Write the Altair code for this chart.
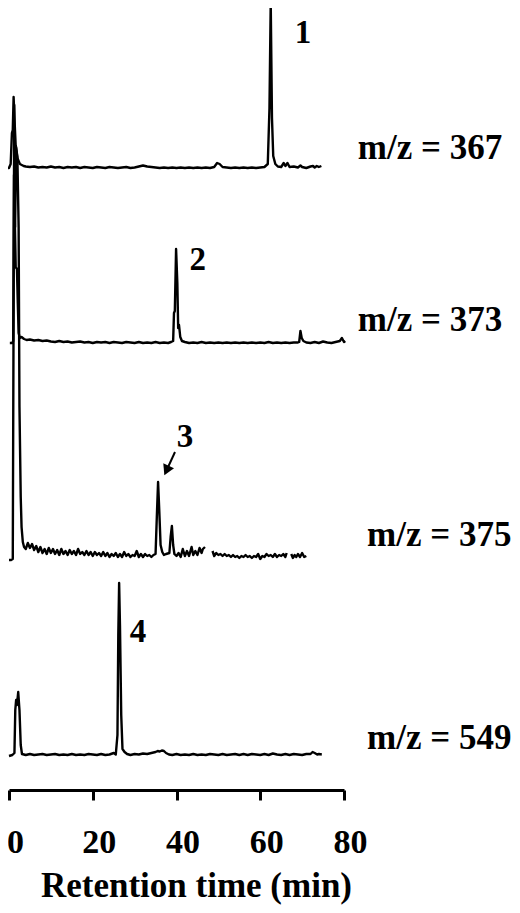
import altair as alt
import pandas as pd

# ---- data: (retention time [min], relative intensity) ----
trace_367 = [(-0.8,0),(0.0,0),(0.4,4),(0.7,35),(0.9,38),(1.1,71),(1.3,50),(1.6,22),(2.0,10),(2.6,4),(3.5,2),
 (4,1.5),(5,1),(6,1.5),(7,0.5),(8,1),(9,0.5),(10,1.5),(11,0.5),(12,1),(13,0),(14,1),(15,0.5),(16,1),(17,0),
 (18,1),(19,0.5),(20,0),(21,1),(22,0.5),(23,0),(24,1),(25,0.5),(26,0),(27,0.5),(28,1),(29,0),(30,0.5),(31,1.5),
 (32,2.5),(33,1.5),(34,1),(35,0.5),(36,0),(37,0.5),(38,0),(39,0.5),(40,0),(41,0.5),(42,0),(43,0.5),(44,0),
 (45,0.5),(46,0),(47,0.5),(48,0),(49,1),(49.7,5),(50.3,4),(51,1),(52,0.5),(53,0),(54,0.5),(55,0),(56,0.5),
 (57,0),(58,0.5),(59,0),(60,0.5),(61,1),(61.8,4),(62.2,60),(62.5,166),(62.8,50),(63.1,12),(63.6,4),(64.2,1.5),
 (65,1),(65.6,5),(66,2),(66.5,5),(67,1),(68,1.5),(69,0.5),(69.6,2.5),(70,1),(71,0),(72,1.5),(72.6,2),(73,0.5),
 (73.5,2),(74,1),(74.6,2)]

trace_373 = [(0.2,0),(0.8,0),(1.0,2),(1.2,168),(1.4,120),(1.6,76),(1.9,74),(2.1,40),(2.3,10),(2.6,5),(3.0,6),
 (3.6,4),(4.2,3),(5,3.5),(6,2.5),(7,3),(8,2),(9,2.5),(10,1.5),(11,1),(12,2),(13,1),(14,1.5),(15,0.5),(16,1),
 (17,1.5),(18,0.5),(19,1),(20,0),(21,1),(22,0.5),(23,1),(24,0),(25,1),(26,0.5),(27,0),(28,1),(29,0.5),(30,0),
 (31,1),(32,0),(33,0.5),(34,0),(35,1),(36,0),(37,0.5),(38,0),(38.7,1),(39.2,2),(39.4,30),(39.6,32),(39.9,94),
 (40.2,60),(40.4,15),(40.6,18),(40.9,6),(41.3,2),(42,1),(43,0),(44,0.5),(45,0),(46,1),(47,0),(48,0.5),(49,0),
 (50,0.5),(51,0),(52,0.5),(53,0),(54,0.5),(55,0),(56,0.5),(57,0),(58,0.5),(59,0),(60,0.5),(61,0),(62,1),(63,0),
 (64,0.5),(65,0),(66,0.5),(67,0),(68,0.5),(69,0.5),(69.3,1),(69.6,12),(69.9,5),(70.3,2),(71,0.5),(72,0),(73,1),
 (74,0),(75,1.5),(76,0.5),(77,0),(78,1),(79,2),(79.5,5),(80,1),(80.3,2)]

trace_375_a = [(0.0,-3),(0.5,-3),(0.9,-2),(1.1,250),(1.25,452),(1.45,330),(1.7,410),(2.0,400),(2.3,330),
 (2.5,150),(2.8,60),(3.0,30),(3.3,15),(3.6,10),(4.0,8),(4.5,14),(5.0,9),(5.5,13),(6.0,7),(6.5,11),(7.0,5),
 (7.5,10),(8.0,4),(8.5,8),
 (9.0,3),(9.5,9),(10.0,4),(10.5,8),(11.0,3),(11.5,7),(12.0,2),(12.5,8),(13.0,3),(13.5,6),(14.0,2),(14.5,7),
 (15.0,3),(15.5,6),(16.0,2),(16.5,8),(17.0,3),(17.5,5),(18.0,2),(18.5,6),(19.0,2),(19.5,5),(20.0,1),(20.5,5),
 (21.0,2),(21.5,4),(22.0,1),(22.5,5),(23.0,1),(23.5,4),(24.0,0),(24.5,3),(25.0,1),(25.5,4),(26.0,0),(26.5,3),
 (27.0,0),(27.5,5),(28.0,1),(28.5,3),(29.0,0),(29.5,2),(30.0,1),(30.5,6),(31.0,0),(31.5,3),(32.0,0),(32.5,3),
 (33.0,1),(33.5,2),(34.0,0),(34.5,2),(35.0,3),(35.3,40),(35.6,75),(35.9,45),(36.2,12),(36.6,5),(37.0,2),
 (37.5,3),(38.3,4),(38.6,20),(38.9,31),(39.2,12),(39.5,3),(40.0,1),(40.5,4),(41.0,0),(41.5,8),(42.0,1),
 (42.5,6),(43.0,1),(43.6,10),(44.0,2),(44.5,6),(45.0,2),(45.5,9),(46.0,4),(46.3,8),(46.8,10)]
trace_375_b = [(48.6,6),(49.0,1),(49.5,4),(50,2),(50.5,3),(51,1),(51.5,3),(52,1),(52.5,2),(53,0),(53.5,2),(54,0),
 (54.5,1),(55,-1),(55.5,1),(56,0),(56.5,2),(57,0),(57.5,1),(58,-1),(58.5,1),(59,0),(59.5,3),(60,-2),(60.5,1),
 (61,0),(61.5,3),(62,1),(62.5,2),(63,0),(63.5,3),(64,0),(64.5,2),(65,1),(65.5,3),(66,0),(66.3,4)]
trace_375_c = [(67.4,3),(67.8,-1),(68.2,2),(68.6,0),(69.0,3),(69.5,0),(70.0,4),(70.5,0),(71.0,1)]

trace_549 = [(0,-1),(0.8,0),(1.3,2),(1.5,45),(1.7,55),(1.9,50),(2.2,63),(2.5,45),(2.8,10),(3.1,1),(4,0),(5,1),
 (6,0),(7,0.5),(8,1),(9,0),(10,0.5),(11,1),(12,0),(13,0.5),(14,0),(15,1),(16,0),(17,0.5),(18,0),(19,1),(20,0.5),
 (21,0),(22,1),(23,0),(24,0.5),(25,2),(25.5,0.5),(25.9,20),(26.1,120),(26.3,172),(26.5,130),(26.8,40),(27.1,6),
 (27.6,3),(28.2,1),(29,0),(30,1),(31,0.5),(32,1.5),(33,1),(34,2),(35,3),(35.5,4),(36,3.5),(36.5,4.5),(37,4),
 (37.5,2),(38.2,0.5),(39,0),(40,1),(41,0),(42,0.5),(43,0),(44,1),(45,0),(46,0.5),(47,0),(48,1),(49,0.5),(50,0),
 (51,1),(52,0),(53,0.5),(54,1),(55,0),(56,1),(57,0),(58,1),(59,0.5),(60,0),(61,1),(62,0),(63,1.5),(64,0.5),
 (65,0),(66,1),(67,0),(68,1),(69,0.5),(70,0),(71,1),(72,1),(72.5,3),(73,2),(73.6,0.5),(74,1),(74.7,0.5)]

mz_labels = ["m/z = 367", "m/z = 373", "m/z = 375", "m/z = 549"]
peak_labels = ["1", "2", "3", "4"]
x_ticks = [0, 20, 40, 60, 80]

# ---- layout (stacking offsets and annotation placement, in intensity units) ----
offsets = [622, 447, 233, 35]
segments = [[trace_367], [trace_373], [trace_375_a, trace_375_b, trace_375_c], [trace_549]]
mz_x = [83.3, 83.3, 85.5, 85.5]
mz_dy = [20, 23, 22, 17]
peak_label_x = [70.2, 45.1, 42.0, 30.8]
peak_label_y = [757, 530, 353, 158]

rows = []
for i, (segs, off) in enumerate(zip(segments, offsets)):
    for s, seg in enumerate(segs):
        for t, v in seg:
            rows.append({"seg": f"{i}-{s}", "t": t, "y": v + off})
df = pd.DataFrame(rows)

mz_df = pd.DataFrame({"label": mz_labels, "x": mz_x,
                      "y": [o + d for o, d in zip(offsets, mz_dy)]})
pk_df = pd.DataFrame({"label": peak_labels, "x": peak_label_x, "y": peak_label_y})
arrow_df = pd.DataFrame({"x": [39.64], "y": [338], "x2": [37.61], "y2": [319.5]})

FONT = "Liberation Serif"
xscale = alt.Scale(domain=[0, 80], nice=False, zero=False)
yscale = alt.Scale(domain=[0, 782], nice=False, zero=False)

lines = alt.Chart(df).mark_line(color="black", strokeWidth=2.4, strokeJoin="round").encode(
    x=alt.X("t:Q", scale=xscale, title="Retention time (min)",
            axis=alt.Axis(values=x_ticks, grid=False, domainColor="black", domainWidth=3,
                          tickColor="black", tickWidth=3, tickSize=10, labelFont=FONT,
                          labelFontWeight="bold", labelFontSize=34, labelColor="black",
                          labelPadding=25, labelOffset=6, labelFlush=False, labelOverlap=False,
                          titleFont=FONT, titleFontWeight="bold", titleFontSize=35,
                          titleColor="black", titleX=187, titleY=106, titleAlign="center",
                          titleBaseline="alphabetic")),
    y=alt.Y("y:Q", scale=yscale, axis=None),
    detail="seg:N",
)

mz_text = alt.Chart(mz_df).mark_text(font=FONT, fontWeight="bold", fontSize=35, align="left",
                                     baseline="middle", color="black").encode(
    x=alt.X("x:Q", scale=xscale), y=alt.Y("y:Q", scale=yscale), text="label:N")

pk_text = alt.Chart(pk_df).mark_text(font=FONT, fontWeight="bold", fontSize=33, align="center",
                                     baseline="middle", color="black").encode(
    x=alt.X("x:Q", scale=xscale), y=alt.Y("y:Q", scale=yscale), text="label:N")

arrow_line = alt.Chart(arrow_df).mark_rule(color="black", strokeWidth=2).encode(
    x=alt.X("x:Q", scale=xscale), y=alt.Y("y:Q", scale=yscale), x2="x2:Q", y2="y2:Q")
arrow_head = alt.Chart(arrow_df).mark_point(shape="triangle-up", filled=True, color="black",
                                            size=140, angle=205, opacity=1).encode(
    x=alt.X("x2:Q", scale=xscale), y=alt.Y("y2:Q", scale=yscale))

chart = alt.layer(lines, mz_text, pk_text, arrow_line, arrow_head).properties(
    width=335, height=782,
    autosize=alt.AutoSizeParams(type="none"),
    padding={"left": 1, "top": 0, "right": 168, "bottom": 115},
).configure(background="white").configure_view(stroke=None, strokeWidth=0)

chart.save("out.html", embed_options={"renderer": "svg", "actions": False})
